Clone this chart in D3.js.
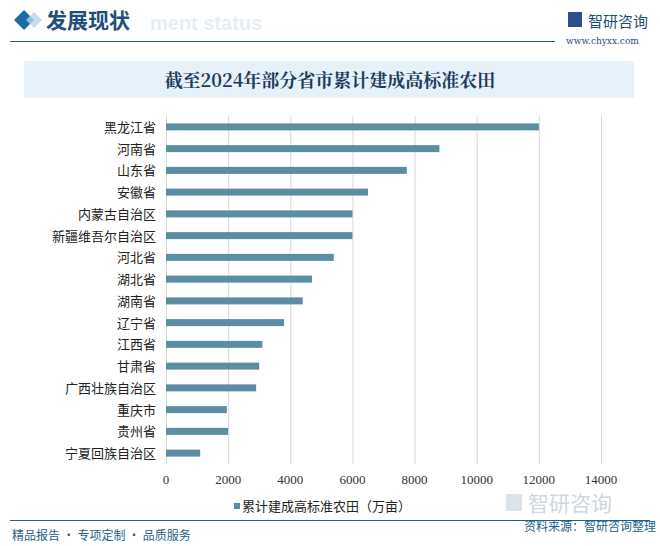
<!DOCTYPE html>
<html><head><meta charset="utf-8">
<script src="https://cdn.jsdelivr.net/npm/d3@7"></script>
<style>body{margin:0;background:#fff;font-family:"Noto Sans CJK SC",sans-serif;}</style>
</head><body><svg id="c" width="660" height="546"></svg>
<script>
const categories=["黑龙江省","河南省","山东省","安徽省","内蒙古自治区","新疆维吾尔自治区","河北省","湖北省","湖南省","辽宁省","江西省","甘肃省","广西壮族自治区","重庆市","贵州省","宁夏回族自治区"];
const values=[12000,8800,7750,6500,6000,6000,5400,4700,4400,3800,3100,3000,2900,1960,2000,1100];
const ticks=[0,2000,4000,6000,8000,10000,12000,14000];
const seriesName="累计建成高标准农田（万亩）";
const svg=d3.select("#c");
const blue="#1f5f8b";
svg.append("path").attr("d","M14,20 L24,10 L34,20 L24,30Z").attr("fill","#1a6aa8");
svg.append("path").attr("d","M26,20 L34,12 L42,20 L34,28Z").attr("fill","#b7d3ea").attr("opacity",0.8);
svg.append("text").attr("x",150).attr("y",30).attr("font-size",20).attr("font-weight","bold").attr("fill","#e6eef5").attr("font-family","Arial").text("ment status");
svg.append("text").attr("x",46).attr("y",28).attr("font-size",21).attr("font-weight","bold").attr("fill","#1f4e79").text("发展现状");
svg.append("line").attr("x1",10).attr("x2",555).attr("y1",41.5).attr("y2",41.5).attr("stroke",blue).attr("stroke-width",1.2);
svg.append("rect").attr("x",568).attr("y",12).attr("width",14).attr("height",15).attr("fill","#2d4e8a");
svg.append("text").attr("x",588).attr("y",27).attr("font-size",15).attr("fill","#1f4e79").text("智研咨询");
svg.append("text").attr("x",566).attr("y",44).attr("font-size",9).attr("fill","#1f4e79").attr("font-family","DejaVu Serif").text("www.chyxx.com");
svg.append("rect").attr("x",24).attr("y",61).attr("width",610).attr("height",37).attr("fill","#e6f1fa");
svg.append("text").attr("x",330).attr("y",87).attr("text-anchor","middle").attr("font-size",18).attr("font-weight","bold").attr("fill","#1f3b5a").attr("font-family","Noto Serif CJK SC, Noto Sans CJK SC").text("截至2024年部分省市累计建成高标准农田");
svg.append("rect").attr("x",506).attr("y",494).attr("width",16).attr("height",17).attr("fill","#bcc6d2").attr("opacity",0.5);
svg.append("text").attr("x",528).attr("y",511).attr("font-size",21).attr("fill","#bcc6d2").attr("opacity",0.7).text("智研咨询");
const x=d3.scaleLinear().domain([0,14000]).range([166,601]);
const y=d3.scaleBand().domain(categories).range([116,464]);
const g=svg.append("g");
g.selectAll(".gl").data(ticks).join("line").attr("x1",d=>x(d)+0.5).attr("x2",d=>x(d)+0.5).attr("y1",116).attr("y2",464).attr("stroke","#d9d9d9");
g.selectAll(".bar").data(values).join("rect").attr("x",x(0)).attr("y",(d,i)=>y(categories[i])+y.bandwidth()/2-3.5).attr("width",d=>x(d)-x(0)).attr("height",7).attr("fill","#5b8ea3");
g.selectAll(".cl").data(categories).join("text").attr("x",156).attr("y",d=>y(d)+y.bandwidth()/2+5).attr("text-anchor","end").attr("font-size",13).attr("fill","#222").text(d=>d);
g.selectAll(".tl").data(ticks).join("text").attr("x",d=>x(d)).attr("y",484).attr("text-anchor","middle").attr("font-size",13).attr("fill","#333").attr("font-family","Liberation Serif").text(d=>d);
svg.append("rect").attr("x",234).attr("y",503).attr("width",6).attr("height",6).attr("fill","#5b8ea3");
svg.append("text").attr("x",242).attr("y",511).attr("font-size",13).attr("fill","#222").text(seriesName);
svg.append("line").attr("x1",10).attr("x2",650).attr("y1",520.5).attr("y2",520.5).attr("stroke",blue).attr("stroke-width",1.2);
svg.append("text").attr("x",12).attr("y",540).attr("font-size",12).attr("fill","#1f5f8b").text("精品报告 · 专项定制 · 品质服务");
svg.append("text").attr("x",656).attr("y",531).attr("text-anchor","end").attr("font-size",12).attr("fill","#1f5f8b").text("资料来源：智研咨询整理");
</script></body></html>
